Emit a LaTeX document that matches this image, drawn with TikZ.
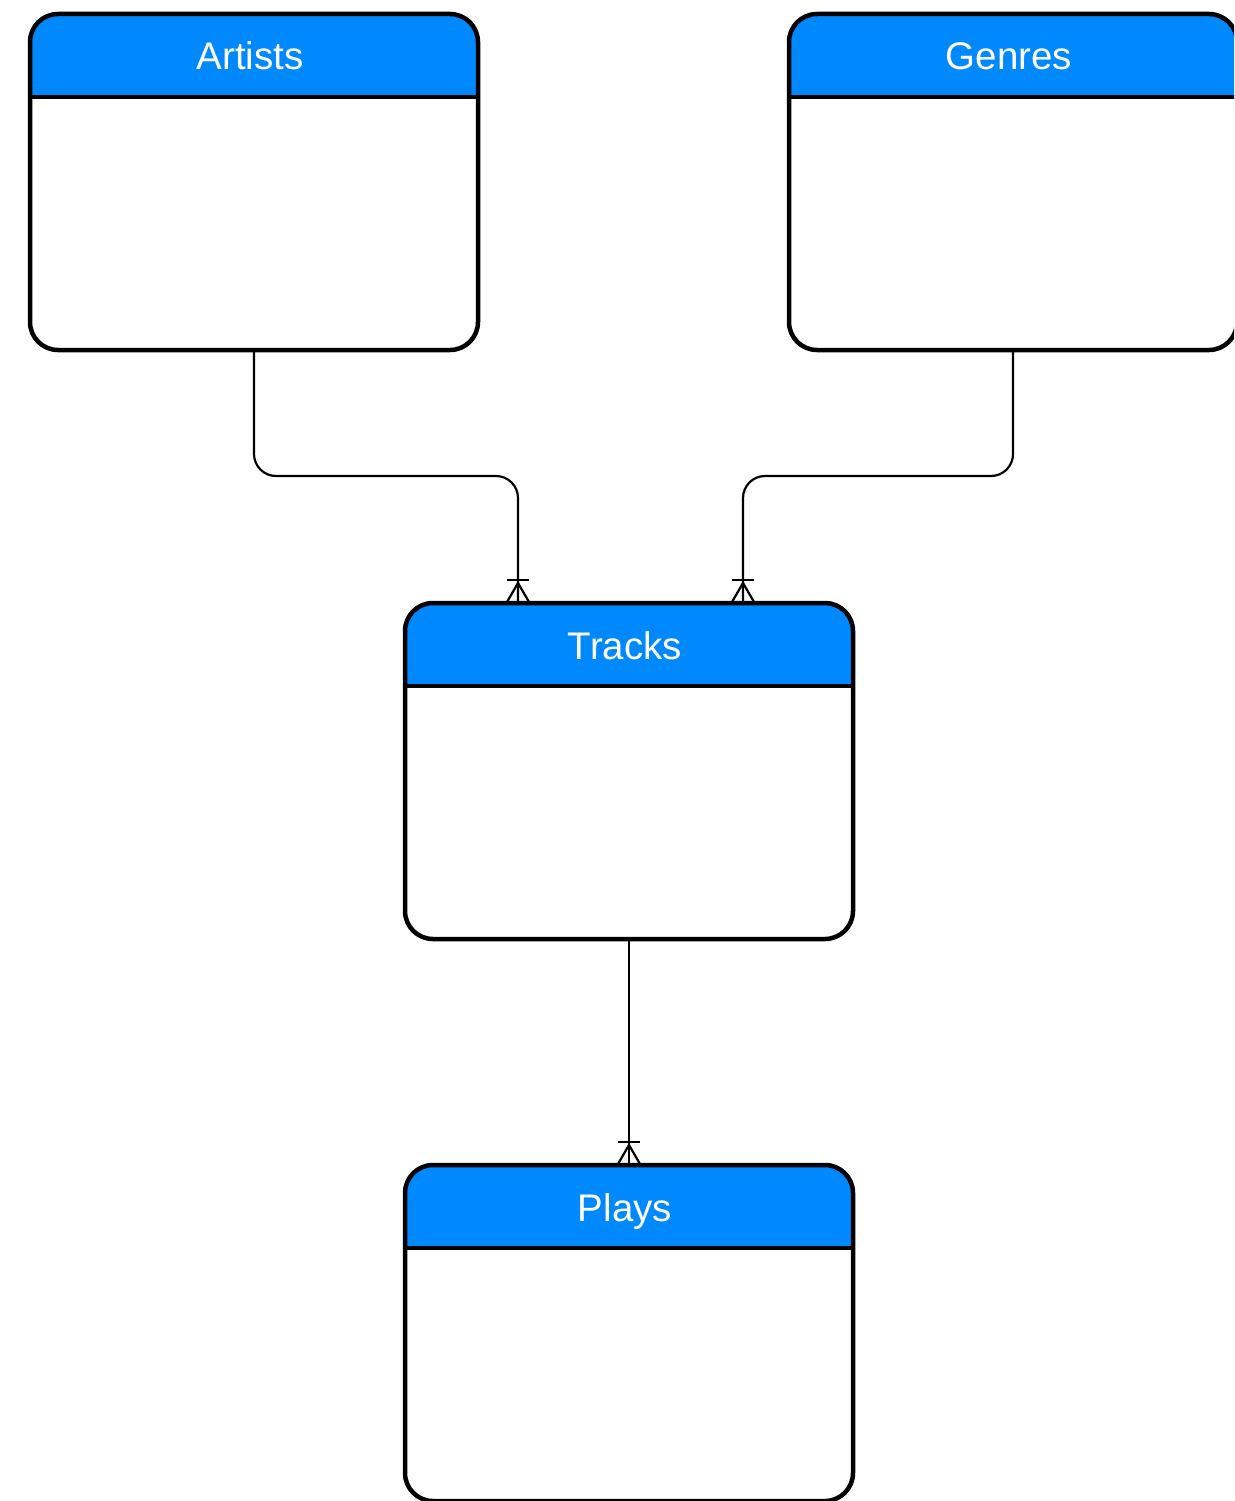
\documentclass[tikz,border=0pt]{standalone}
\usepackage{fontspec}
\setmainfont{Liberation Sans}
\definecolor{hdrblue}{RGB}{0,136,255}
\newcommand\ertable[4]{% name, x, y, label
  \node[erbox] (#1) at (#2,#3) {};
  \begin{scope}
    \clip[rounded corners=28pt] (#1.north west) rectangle (#1.south east);
    \fill[hdrblue] (#1.north west) rectangle ([yshift=-83pt]#1.north east);
  \end{scope}
  \draw[line width=4.5pt] ([yshift=-83pt]#1.north west) -- ([yshift=-83pt]#1.north east);
  \draw[line width=4.5pt, rounded corners=28pt] (#1.north west) rectangle (#1.south east);
  \node[hdrtext] (#1-title) at ([xshift=-4pt,yshift=-56pt]#1.north) {#4};
}
\tikzset{
  erbox/.style={rectangle, minimum width=448pt, minimum height=336pt, inner sep=0pt, outer sep=0pt, anchor=north west},
  hdrtext/.style={text=white, anchor=base, inner sep=0pt, font=\fontsize{38.5}{44}\selectfont},
  conn/.style={draw=black, line width=2.2pt, rounded corners=22pt},
  crowfoot/.pic={
    \draw[line width=2.2pt] (-11,-23) -- (11,-23);
    \draw[line width=2.2pt] (-11,-1) -- (0,-20) -- (11,-1);
  }
}
\begin{document}
\begin{tikzpicture}[x=1pt,y=-1pt]
\useasboundingbox (0,0) rectangle (1234,1501);
\clip (0,0) rectangle (1234,1501);
\ertable{artists}{30}{14}{Artists}
\ertable{genres}{789}{14}{Genres}
\ertable{tracks}{405}{603}{Tracks}
\ertable{plays}{405}{1165}{Plays}
\coordinate (ta) at ([xshift=113pt]tracks.north west);
\coordinate (tg) at ([xshift=338pt]tracks.north west);
\coordinate (jy) at (0,476);
\draw[conn] (artists.south) -- (artists.south |- jy) -- (ta |- jy) -- (ta);
\draw[conn] (genres.south) -- (genres.south |- jy) -- (tg |- jy) -- (tg);
\draw[conn] (tracks.south) -- (plays.north);
\pic at (ta) {crowfoot};
\pic at (tg) {crowfoot};
\pic at (plays.north) {crowfoot};
\end{tikzpicture}
\end{document}
